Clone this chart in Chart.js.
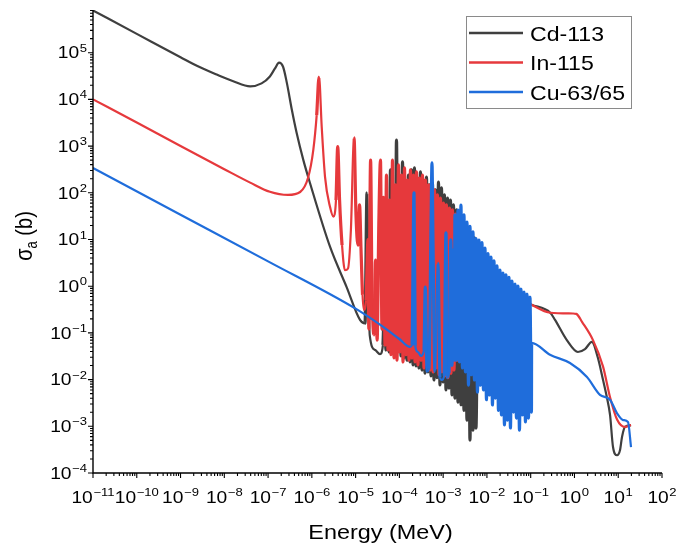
<!DOCTYPE html>
<html>
<head>
<meta charset="utf-8">
<script src="https://cdn.jsdelivr.net/npm/chart.js@4/dist/chart.umd.min.js"></script>
<style>
html,body{margin:0;padding:0;background:#ffffff;}
canvas{display:block;}
</style>
</head>
<body>
<canvas id="c" width="676" height="550"></canvas>
<script>
// ---------------- data ----------------
const seriesLabels = ['Cd-113', 'In-115', 'Cu-63/65'];
const seriesColors = ['#3f3f3f', '#e6393c', '#1f6ddb'];
const xTickExponents = [-11, -10, -9, -8, -7, -6, -5, -4, -3, -2, -1, 0, 1, 2];
const yTickExponents = [-4, -3, -2, -1, 0, 1, 2, 3, 4, 5];
const xAxisTitle = 'Energy (MeV)';
const yAxisTitle = ['\u03c3', 'a', ' (b)'];

// [energy (MeV), cross section (b)]
const cd113 = [
  [1e-11, 8.0e5], [1e-10, 2.53e5], [1e-9, 8.0e4], [2.8e-9, 4.85e4], [6.7e-9, 3.4e4], [1.6e-8, 2.45e4],
  [3.9e-8, 1.9e4], [7.1e-8, 2.2e4], [1.1e-7, 3.1e4], [1.44e-7, 4.6e4], [1.78e-7, 6.1e4], [2.2e-7, 5.0e4],
  [2.7e-7, 2.2e4], [3.5e-7, 5.9e3], [4.5e-7, 1.9e3], [6.4e-7, 500], [9.1e-7, 160], [2.6e-6, 7.0],
  [6.2e-6, 0.97], [1.26e-5, 0.19], [1.64e-5, 0.16], [1.82e-5, 100], [2.1e-5, 0.09], [2.8e-5, 0.043],
  [3.6e-5, 0.035], [4.2e-5, 0.055],
  [4.57e-5, 0.51], [4.94e-5, 0.043], [5.35e-5, 9.8], [5.79e-5, 0.039], [6.26e-5, 308], [6.78e-5, 0.037],
  [7.33e-5, 16], [7.93e-5, 0.043], [8.59e-5, 1350], [9.29e-5, 0.039], [1.005e-4, 70], [1.09e-4, 0.032],
  [1.18e-4, 457], [1.27e-4, 0.029], [1.38e-4, 115], [1.49e-4, 0.026], [1.61e-4, 240], [1.75e-4, 0.024],
  [1.89e-4, 308], [2.05e-4, 0.0206], [2.21e-4, 340], [2.40e-4, 0.0196], [2.59e-4, 207], [2.80e-4, 0.0177],
  [3.03e-4, 279], [3.28e-4, 0.016], [3.55e-4, 188], [3.85e-4, 0.0138], [4.16e-4, 218], [4.50e-4, 0.0146],
  [4.87e-4, 147], [5.27e-4, 0.012], [5.70e-4, 162], [6.17e-4, 0.0098], [6.68e-4, 115], [7.23e-4, 0.011],
  [7.82e-4, 170], [8.46e-4, 0.0077], [9.16e-4, 127], [9.91e-4, 0.0089], [1.07e-3, 90], [1.16e-3, 0.006],
  [1.26e-3, 77], [1.36e-3, 0.0066], [1.47e-3, 70], [1.59e-3, 0.0047], [1.72e-3, 55], [1.86e-3, 0.004],
  [2.02e-3, 43], [2.18e-3, 0.0033], [2.36e-3, 29], [2.56e-3, 0.0029], [2.76e-3, 23.7], [2.99e-3, 0.0022],
  [3.24e-3, 16], [3.50e-3, 0.00136], [3.79e-3, 14.5], [4.10e-3, 0.00051], [4.44e-3, 12.5], [4.80e-3, 0.00083],
  [5.20e-3, 10.8], [5.62e-3, 0.00092],
  [6.25e-3, 0.83], [1.99e-2, 0.62], [5.69e-2, 0.51], [0.105, 0.40], [0.28, 0.27], [0.36, 0.19],
  [0.67, 0.07], [1.2, 0.039], [1.74, 0.045], [2.5, 0.064], [3.4, 0.03], [4.5, 0.0098], [5.5, 0.0042],
  [6.5, 0.00175], [7.6, 0.00036], [9.4, 0.00024], [11, 0.00031], [12.2, 0.00059], [14.3, 0.00097], [19.6, 0.00105]
];

const in115 = [
  [1e-11, 1.0e4], [1e-10, 3.2e3], [1e-9, 1.0e3], [1e-8, 320], [3.9e-8, 165], [1.1e-7, 105],
  [2.85e-7, 90], [5.4e-7, 104], [8.2e-7, 210], [1.08e-6, 830], [1.29e-6, 4600], [1.46e-6, 3.0e4],
  [1.68e-6, 2600], [2.0e-6, 220], [2.6e-6, 50], [3.1e-6, 31], [3.56e-6, 70], [3.9e-6, 970],
  [4.3e-6, 70], [4.9e-6, 7.6], [5.7e-6, 2.2], [6.7e-6, 2.4], [7.8e-6, 16], [9.2e-6, 1500],
  [1.02e-5, 33], [1.13e-5, 7.6], [1.23e-5, 55], [1.33e-5, 6], [1.44e-5, 0.65], [1.55e-5, 0.31],
  [1.73e-5, 0.5], [1.92e-5, 10], [2.0e-5, 0.12], [2.2e-5, 500], [2.4e-5, 0.19], [2.6e-5, 0.09],
  [2.85e-5, 3.6], [3.1e-5, 0.07], [3.4e-5, 26], [3.7e-5, 500], [4.0e-5, 0.12], [4.3e-5, 80], [4.7e-5, 0.055],
  [5.07e-5, 240], [5.49e-5, 0.043], [5.94e-5, 70], [6.43e-5, 0.034], [6.96e-5, 504], [7.53e-5, 0.029],
  [8.15e-5, 147], [8.82e-5, 0.026], [9.54e-5, 394], [1.03e-4, 0.039], [1.12e-4, 240], [1.21e-4, 0.0238],
  [1.31e-4, 340], [1.42e-4, 0.034], [1.53e-4, 188], [1.66e-4, 0.026], [1.79e-4, 308], [1.94e-4, 0.029],
  [2.10e-4, 240], [2.27e-4, 0.024], [2.46e-4, 279], [2.66e-4, 0.0206], [2.88e-4, 207], [3.12e-4, 0.026],
  [3.37e-4, 240], [3.65e-4, 0.0177], [3.95e-4, 188], [4.27e-4, 0.0206], [4.62e-4, 147], [5.00e-4, 0.016],
  [5.41e-4, 162], [5.86e-4, 0.0146], [6.34e-4, 115], [6.86e-4, 0.0177], [7.42e-4, 90], [8.03e-4, 0.0127],
  [8.69e-4, 77], [9.40e-4, 0.0146], [1.02e-3, 60], [1.10e-3, 0.012], [1.19e-3, 55], [1.29e-3, 0.011],
  [1.40e-3, 47], [1.51e-3, 0.0137], [1.63e-3, 43], [1.77e-3, 0.016], [1.91e-3, 35], [2.07e-3, 0.026],
  [2.24e-3, 26],
  [2.69e-3, 3.3], [6.94e-3, 1.65], [1.99e-2, 0.915], [5.69e-2, 0.56], [0.105, 0.40], [0.28, 0.27],
  [0.92, 0.26], [1.1, 0.255], [1.5, 0.17], [2.65, 0.07], [4.5, 0.019], [6.5, 0.0042], [9.4, 0.0014],
  [14.3, 0.00097], [19.6, 0.00107]
];

const cu6365 = [
  [1e-11, 340], [1e-9, 34], [1e-7, 3.4], [1e-5, 0.33], [3.6e-5, 0.15], [1e-4, 0.074], [1.75e-4, 0.05],
  [1.94e-4, 0.055], [2.16e-4, 100], [2.3e-4, 0.053], [2.66e-4, 0.039], [3.1e-4, 0.032], [3.65e-4, 0.043],
  [3.9e-4, 0.96], [4.3e-4, 0.015], [4.75e-4, 0.017], [5.3e-4, 26], [5.56e-4, 435], [5.85e-4, 9.8],
  [6.5e-4, 0.015], [7.6e-4, 3.1], [8.5e-4, 0.011], [9.4e-4, 0.0098], [1.05e-3, 0.012], [1.16e-3, 13.8],
  [1.26e-3, 0.011], [1.36e-3, 0.014], [1.5e-3, 9.8], [1.59e-3, 0.02], [1.7e-3, 6], [1.8e-3, 0.026],
  [1.86e-3, 33.5], [2.01e-3, 0.026], [2.18e-3, 42.8], [2.36e-3, 0.0238], [2.55e-3, 54.8], [2.76e-3, 0.0177],
  [2.99e-3, 33.5], [3.23e-3, 0.0146], [3.50e-3, 23.7], [3.79e-3, 0.00765], [4.10e-3, 19], [4.43e-3, 0.0127],
  [4.80e-3, 14.5], [5.19e-3, 0.0098], [5.62e-3, 10.5], [6.08e-3, 0.0054], [6.58e-3, 9.76], [7.12e-3, 0.00765],
  [7.70e-3, 8.6], [8.33e-3, 0.006], [9.02e-3, 6.58], [9.76e-3, 0.0037], [1.056e-2, 5.0], [1.142e-2, 0.00468],
  [1.236e-2, 4.22], [1.338e-2, 0.00286], [1.448e-2, 3.5], [1.566e-2, 0.00403], [1.695e-2, 2.71], [1.834e-2, 0.0022],
  [1.985e-2, 2.2], [2.148e-2, 0.00175], [2.324e-2, 1.9], [2.515e-2, 0.00107], [2.721e-2, 1.74], [2.944e-2, 0.00136],
  [3.186e-2, 1.55], [3.448e-2, 0.00092], [3.731e-2, 1.29], [4.037e-2, 0.00202], [4.369e-2, 1.11], [4.728e-2, 0.0015],
  [5.116e-2, 1.01], [5.536e-2, 0.00083], [5.99e-2, 0.871], [6.482e-2, 0.00175], [7.015e-2, 0.751], [7.591e-2, 0.00124],
  [8.213e-2, 0.68], [8.888e-2, 0.0015], [9.618e-2, 0.587], [0.1041, 0.002],
  [0.105, 0.061], [0.276, 0.034], [0.79, 0.0226], [1.93, 0.0114], [3.83, 0.0047], [6.48, 0.0037],
  [9.4, 0.0019], [12.9, 0.00136], [16.7, 0.00124], [19.6, 0.00036]
];

const xRange = [1e-11, 100];
const yRange = [1e-4, 8.2e5];

// ---------------- drawing helpers ----------------
const FONT = '"Liberation Sans", Arimo, Arial, Helvetica, sans-serif';
const STRETCH = 1.2;

function drawPow10(ctx, exp, x, baseline, align, size) {
  const base = '10';
  const es = String(exp).replace('-', '\u2212');
  const supSize = size * 0.68;
  ctx.font = size + 'px ' + FONT;
  const wb = ctx.measureText(base).width;
  ctx.font = supSize + 'px ' + FONT;
  const we = ctx.measureText(es).width;
  const gap = 0.5;
  const total = (wb + gap + we) * STRETCH;
  const x0 = align === 'center' ? x - total / 2 : x - total;
  ctx.save();
  ctx.translate(x0, baseline);
  ctx.scale(STRETCH, 1);
  ctx.textAlign = 'left';
  ctx.textBaseline = 'alphabetic';
  ctx.font = size + 'px ' + FONT;
  ctx.fillText(base, 0, 0);
  ctx.font = supSize + 'px ' + FONT;
  ctx.fillText(es, wb + gap, -size * 0.42);
  ctx.restore();
}

const decorPlugin = {
  id: 'decor',
  afterDatasetsDraw(chart) {
    const ctx = chart.ctx;
    const xs = chart.scales.x, ys = chart.scales.y;
    const ca = chart.chartArea;
    ctx.save();
    ctx.fillStyle = '#000';
    ctx.strokeStyle = '#000';
    // axes lines
    ctx.lineWidth = 1.4;
    ctx.beginPath();
    ctx.moveTo(ca.left, ca.top);
    ctx.lineTo(ca.left, ca.bottom);
    ctx.lineTo(ca.right, ca.bottom);
    ctx.stroke();
    // ticks
    ctx.lineWidth = 1.1;
    ctx.beginPath();
    xTickExponents.forEach((e, i) => {
      for (let m = 1; m <= 9; m++) {
        if (m > 1 && i === xTickExponents.length - 1) break;
        const px = xs.getPixelForValue(m * Math.pow(10, e));
        const len = m === 1 ? 5 : 3;
        ctx.moveTo(px, ca.bottom);
        ctx.lineTo(px, ca.bottom + len);
      }
    });
    yTickExponents.forEach((e) => {
      for (let m = 1; m <= 9; m++) {
        const v = m * Math.pow(10, e);
        if (v > yRange[1]) break;
        const py = ys.getPixelForValue(v);
        const len = m === 1 ? 5 : 3;
        ctx.moveTo(ca.left, py);
        ctx.lineTo(ca.left - len, py);
      }
    });
    ctx.stroke();
    // tick labels
    xTickExponents.forEach((e) => {
      const px = xs.getPixelForValue(Math.pow(10, e));
      drawPow10(ctx, e, px, ca.bottom + 30, 'center', 16);
    });
    yTickExponents.forEach((e) => {
      const py = ys.getPixelForValue(Math.pow(10, e));
      drawPow10(ctx, e, ca.left - 6, py + 5.8, 'right', 16);
    });
    // x title
    ctx.save();
    ctx.font = '19.5px ' + FONT;
    const tw = ctx.measureText(xAxisTitle).width * STRETCH;
    ctx.translate((ca.left + ca.right) / 2 + 3 - tw / 2, 539);
    ctx.scale(STRETCH, 1);
    ctx.textBaseline = 'alphabetic';
    ctx.fillText(xAxisTitle, 0, 0);
    ctx.restore();
    // y title (rotated)
    ctx.save();
    const big = 20, small = 13;
    ctx.font = big + 'px ' + FONT;
    const w1 = ctx.measureText(yAxisTitle[0]).width;
    const w3 = ctx.measureText(yAxisTitle[2]).width;
    ctx.font = small + 'px ' + FONT;
    const w2 = ctx.measureText(yAxisTitle[1]).width;
    const totalW = w1 + w2 + w3;
    ctx.translate(32, 236);
    ctx.rotate(-Math.PI / 2);
    ctx.scale(1, STRETCH);
    ctx.textBaseline = 'alphabetic';
    let cx = -totalW / 2;
    ctx.font = big + 'px ' + FONT;
    ctx.fillText(yAxisTitle[0], cx, 0); cx += w1;
    ctx.font = small + 'px ' + FONT;
    ctx.fillText(yAxisTitle[1], cx, 4); cx += w2;
    ctx.font = big + 'px ' + FONT;
    ctx.fillText(yAxisTitle[2], cx, 0);
    ctx.restore();
    // legend
    ctx.lineWidth = 1;
    ctx.strokeStyle = '#8a8a8a';
    ctx.strokeRect(466.5, 16.5, 165, 92);
    const rows = [33, 62.5, 92];
    seriesLabels.forEach((lab, i) => {
      ctx.strokeStyle = seriesColors[i];
      ctx.lineWidth = 2.6;
      ctx.beginPath();
      ctx.moveTo(469, rows[i]);
      ctx.lineTo(523, rows[i]);
      ctx.stroke();
      ctx.save();
      ctx.fillStyle = '#000';
      ctx.translate(530, rows[i] + 7.5);
      ctx.scale(1.1, 1);
      ctx.font = '21px ' + FONT;
      ctx.textBaseline = 'alphabetic';
      ctx.fillText(lab, 0, 0);
      ctx.restore();
    });
    ctx.restore();
  }
};

function toXY(arr) { return arr.map(p => ({ x: p[0], y: p[1] })); }

// steep, narrow segments (resonance forest) are stroked a bit wider so the band reads solid
function segWidth(c) {
  const dx = Math.abs(c.p1.x - c.p0.x), dy = Math.abs(c.p1.y - c.p0.y);
  return (dx < 2.5 && dy > 25) ? 3.2 : 2.2;
}

const allSeries = [cd113, in115, cu6365];
const datasets = allSeries.map((s, i) => ({
  label: seriesLabels[i],
  data: toXY(s),
  borderColor: seriesColors[i],
  backgroundColor: seriesColors[i],
  borderWidth: 2.2,
  pointRadius: 0,
  fill: false,
  tension: 0,
  cubicInterpolationMode: 'monotone',
  borderJoinStyle: 'round',
  segment: { borderWidth: segWidth },
  order: 2 - i
}));

new Chart(document.getElementById('c'), {
  type: 'line',
  data: { datasets },
  plugins: [decorPlugin],
  options: {
    responsive: false,
    animation: false,
    devicePixelRatio: 1,
    layout: { padding: { left: 0, right: 14, top: 10, bottom: 0 } },
    plugins: { legend: { display: false }, tooltip: { enabled: false } },
    scales: {
      x: {
        type: 'logarithmic', min: xRange[0], max: xRange[1],
        grid: { display: false }, border: { display: false },
        ticks: { display: false },
        afterFit(scale) { scale.height = 77; }
      },
      y: {
        type: 'logarithmic', min: yRange[0], max: yRange[1],
        grid: { display: false }, border: { display: false },
        ticks: { display: false },
        afterFit(scale) { scale.width = 93; }
      }
    }
  }
});
</script>
</body>
</html>
